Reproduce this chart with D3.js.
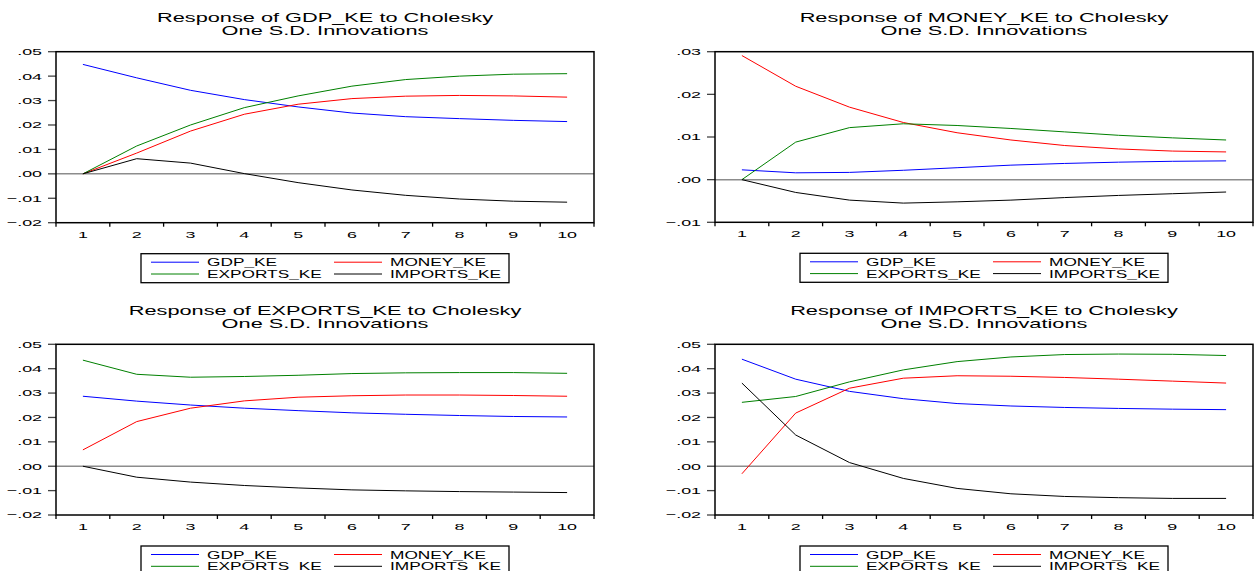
<!DOCTYPE html>
<html>
<head>
<meta charset="utf-8">
<script src="https://cdn.jsdelivr.net/npm/d3@7"></script>
<style>
  html, body { margin: 0; padding: 0; background: #fff; }
  svg { display: block; font-family: "Liberation Sans", Arial, sans-serif; }
</style>
</head>
<body>
<svg id="chart" width="1256" height="571"></svg>
<script>
// Impulse responses, periods 1..10
const periods = [1, 2, 3, 4, 5, 6, 7, 8, 9, 10];
const seriesNames = ['GDP_KE', 'MONEY_KE', 'EXPORTS_KE', 'IMPORTS_KE'];
const seriesColors = ['#0000ff', '#ff0000', '#008000', '#000000'];

// Response of GDP_KE
const gdpGdp     = [0.0448, 0.0393, 0.0342, 0.0304, 0.0274, 0.0249, 0.0234, 0.0226, 0.0219, 0.0214];
const gdpMoney   = [0.0000, 0.0085, 0.0175, 0.0244, 0.0285, 0.0308, 0.0318, 0.0321, 0.0319, 0.0314];
const gdpExports = [0.0000, 0.0114, 0.0200, 0.0271, 0.0319, 0.0359, 0.0386, 0.0400, 0.0408, 0.0410];
const gdpImports = [0.0000, 0.0062, 0.0044, 0.0001, -0.0036, -0.0066, -0.0088, -0.0103, -0.0112, -0.0116];

// Response of MONEY_KE
const moneyGdp     = [0.0023, 0.0016, 0.0017, 0.0022, 0.0028, 0.0034, 0.0038, 0.0041, 0.0043, 0.0044];
const moneyMoney   = [0.0291, 0.0219, 0.0170, 0.0134, 0.0110, 0.0093, 0.0080, 0.0072, 0.0067, 0.0065];
const moneyExports = [0.0000, 0.0088, 0.0122, 0.0131, 0.0127, 0.0120, 0.0112, 0.0104, 0.0098, 0.0093];
const moneyImports = [0.0000, -0.0030, -0.0048, -0.0055, -0.0052, -0.0048, -0.0042, -0.0037, -0.0033, -0.0029];

// Response of EXPORTS_KE
const expGdp     = [0.0287, 0.0267, 0.0251, 0.0238, 0.0228, 0.0219, 0.0213, 0.0208, 0.0204, 0.0202];
const expMoney   = [0.0067, 0.0183, 0.0238, 0.0268, 0.0283, 0.0289, 0.0292, 0.0292, 0.0290, 0.0287];
const expExports = [0.0435, 0.0377, 0.0365, 0.0368, 0.0373, 0.0380, 0.0383, 0.0384, 0.0384, 0.0381];
const expImports = [0.0000, -0.0045, -0.0065, -0.0079, -0.0089, -0.0097, -0.0101, -0.0104, -0.0106, -0.0108];

// Response of IMPORTS_KE
const impGdp     = [0.0439, 0.0357, 0.0307, 0.0277, 0.0257, 0.0247, 0.0241, 0.0237, 0.0234, 0.0232];
const impMoney   = [-0.0031, 0.0218, 0.0320, 0.0361, 0.0371, 0.0369, 0.0364, 0.0357, 0.0349, 0.0341];
const impExports = [0.0262, 0.0286, 0.0346, 0.0395, 0.0429, 0.0448, 0.0458, 0.0460, 0.0459, 0.0454];
const impImports = [0.0341, 0.0128, 0.0015, -0.0050, -0.0091, -0.0113, -0.0124, -0.0129, -0.0132, -0.0132];

const wideTicks = [0.05, 0.04, 0.03, 0.02, 0.01, 0.00, -0.01, -0.02];
const moneyTicks = [0.03, 0.02, 0.01, 0.00, -0.01];

const panels = [
  { title: 'Response of GDP_KE to Cholesky', series: [gdpGdp, gdpMoney, gdpExports, gdpImports],
    ticks: wideTicks, x0: 56, x1: 594, y0: 51.7, y1: 222.7, ty: 22 },
  { title: 'Response of MONEY_KE to Cholesky', series: [moneyGdp, moneyMoney, moneyExports, moneyImports],
    ticks: moneyTicks, x0: 715, x1: 1253, y0: 51.7, y1: 222.3, ty: 22 },
  { title: 'Response of EXPORTS_KE to Cholesky', series: [expGdp, expMoney, expExports, expImports],
    ticks: wideTicks, x0: 56, x1: 594, y0: 344.3, y1: 515, ty: 315 },
  { title: 'Response of IMPORTS_KE to Cholesky', series: [impGdp, impMoney, impExports, impImports],
    ticks: wideTicks, x0: 715, x1: 1253, y0: 344.3, y1: 515, ty: 315 }
];

const svg = d3.select('#chart');

// text in the source is stretched sideways, so each label gets its own x-scale
function stretchedText(parent, x, y, str, size, sx, anchor) {
  parent.append('g')
    .attr('transform', `translate(${x},${y}) scale(${sx},1)`)
    .append('text')
    .attr('font-size', size + 'px')
    .attr('text-anchor', anchor)
    .attr('fill', '#000')
    .text(str);
}

const fmt = v => d3.format('.2f')(v).replace('0.', '.');

panels.forEach(p => {
  const g = svg.append('g');
  const x = d3.scaleBand().domain(periods).range([p.x0, p.x1]);
  const y = d3.scaleLinear().domain([d3.min(p.ticks), d3.max(p.ticks)]).range([p.y1, p.y0]);
  const cx = (p.x0 + p.x1) / 2;

  // title
  stretchedText(g, cx, p.ty, p.title, 12.8, 1.7, 'middle');
  stretchedText(g, cx, p.ty + 13, 'One S.D. Innovations', 12.8, 1.7, 'middle');

  // y ticks + labels
  p.ticks.forEach(t => {
    g.append('line')
      .attr('x1', p.x0 - 8).attr('x2', p.x0)
      .attr('y1', y(t)).attr('y2', y(t))
      .attr('stroke', '#444').attr('stroke-width', 1.3);
    stretchedText(g, p.x0 - 14, y(t) + 3.4, fmt(t), 9.4, 1.9, 'end');
  });

  // x ticks at band edges, labels at centres
  const edges = periods.map(d => x(d)).concat([p.x1]);
  edges.forEach(e => {
    g.append('line')
      .attr('x1', e).attr('x2', e)
      .attr('y1', p.y1).attr('y2', p.y1 + 4)
      .attr('stroke', '#000').attr('stroke-width', 1.3);
  });
  periods.forEach(d => {
    stretchedText(g, x(d) + x.bandwidth() / 2, p.y1 + 14.8, String(d), 9.4, 1.9, 'middle');
  });

  // zero line
  g.append('line')
    .attr('x1', p.x0).attr('x2', p.x1)
    .attr('y1', y(0)).attr('y2', y(0))
    .attr('stroke', '#8c8c8c').attr('stroke-width', 1.5);

  // series
  const line = d3.line()
    .x((v, i) => x(periods[i]) + x.bandwidth() / 2)
    .y(v => y(v));
  p.series.forEach((s, i) => {
    g.append('path')
      .datum(s)
      .attr('d', line)
      .attr('fill', 'none')
      .attr('stroke', seriesColors[i])
      .attr('stroke-width', 1);
  });

  // frame
  g.append('rect')
    .attr('x', p.x0).attr('y', p.y0)
    .attr('width', p.x1 - p.x0).attr('height', p.y1 - p.y0)
    .attr('fill', 'none').attr('stroke', '#000').attr('stroke-width', 1.5);

  // legend
  const lw = 368, lh = 29;
  const lx = cx - lw / 2, ly = p.y1 + 31;
  const lg = g.append('g');
  lg.append('rect')
    .attr('x', lx).attr('y', ly).attr('width', lw).attr('height', lh)
    .attr('fill', '#fff').attr('stroke', '#000').attr('stroke-width', 1.3);
  seriesNames.forEach((name, i) => {
    const col = i % 2, row = Math.floor(i / 2);
    const sx = lx + (col === 0 ? 10 : 193);
    const sy = ly + 8.5 + row * 11.8;
    lg.append('line')
      .attr('x1', sx).attr('x2', sx + 48)
      .attr('y1', sy).attr('y2', sy)
      .attr('stroke', seriesColors[i]).attr('stroke-width', 1);
    stretchedText(lg, sx + 56, sy + 4, name, 10.8, 1.6, 'start');
  });
});
</script>
</body>
</html>
